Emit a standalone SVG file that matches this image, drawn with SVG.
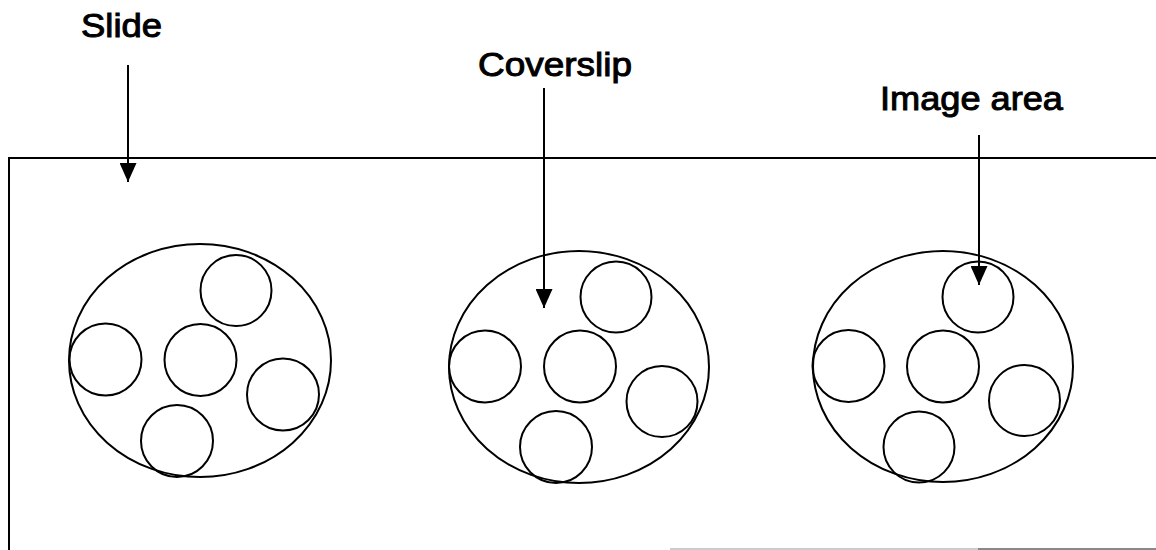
<svg xmlns="http://www.w3.org/2000/svg" width="1156" height="550" viewBox="0 0 1156 550">
<defs>
<style>
.ln{fill:none;stroke:#000;stroke-width:2}
.lbl{font-family:"Liberation Sans",Arial,sans-serif;font-size:34px;fill:#000;stroke:#000;stroke-width:1}
</style>
<marker id="ah" markerWidth="19" markerHeight="17" refX="19" refY="8.5" orient="auto" markerUnits="userSpaceOnUse" viewBox="0 0 19 17">
<path d="M0,0 L19,8.5 L0,17 Z" fill="#000"/>
</marker>
</defs>
<rect width="1156" height="550" fill="#fff"/>
<g id="slide">
<path class="ln" d="M9,550 V158 H1156"/>
<line x1="670" y1="549" x2="978" y2="549" stroke="#ccc" stroke-width="2"/>
<line x1="978" y1="549" x2="1156" y2="549" stroke="#888" stroke-width="2"/>
</g>
<g id="coverslip1">
<ellipse class="ln" cx="200" cy="360.5" rx="131" ry="116.5"/>
<circle class="ln" cx="236" cy="290.5" r="35.5"/>
<circle class="ln" cx="105.5" cy="359.5" r="36"/>
<circle class="ln" cx="200.5" cy="360" r="36"/>
<circle class="ln" cx="283" cy="394.5" r="36"/>
<circle class="ln" cx="177" cy="441" r="36"/>
</g>
<g id="coverslip2">
<ellipse class="ln" cx="579" cy="367" rx="130" ry="116"/>
<circle class="ln" cx="616" cy="297" r="35.5"/>
<circle class="ln" cx="485" cy="366.5" r="36"/>
<circle class="ln" cx="580" cy="366.5" r="36"/>
<circle class="ln" cx="662" cy="401.5" r="35.5"/>
<circle class="ln" cx="556" cy="447" r="36"/>
</g>
<g id="coverslip3">
<ellipse class="ln" cx="943" cy="366.5" rx="130" ry="115.5"/>
<circle class="ln" cx="978" cy="297" r="35.5"/>
<circle class="ln" cx="848.5" cy="366" r="36"/>
<circle class="ln" cx="943" cy="366.5" r="36"/>
<circle class="ln" cx="1024.5" cy="400.5" r="35.5"/>
<circle class="ln" cx="919" cy="447" r="35.5"/>
</g>
<g id="label-slide"><text class="lbl" x="81" y="37" textLength="81" lengthAdjust="spacingAndGlyphs">Slide</text></g>
<g id="label-coverslip"><text class="lbl" x="478" y="76" textLength="154" lengthAdjust="spacingAndGlyphs">Coverslip</text></g>
<g id="label-image-area"><text class="lbl" x="880" y="110" textLength="183" lengthAdjust="spacingAndGlyphs">Image area</text></g>
<g id="connectors">
<line class="ln" x1="128" y1="65" x2="128" y2="182" marker-end="url(#ah)"/>
<line class="ln" x1="544" y1="88" x2="544" y2="308" marker-end="url(#ah)"/>
<line class="ln" x1="979" y1="135" x2="979" y2="285" marker-end="url(#ah)"/>
</g>
</svg>
